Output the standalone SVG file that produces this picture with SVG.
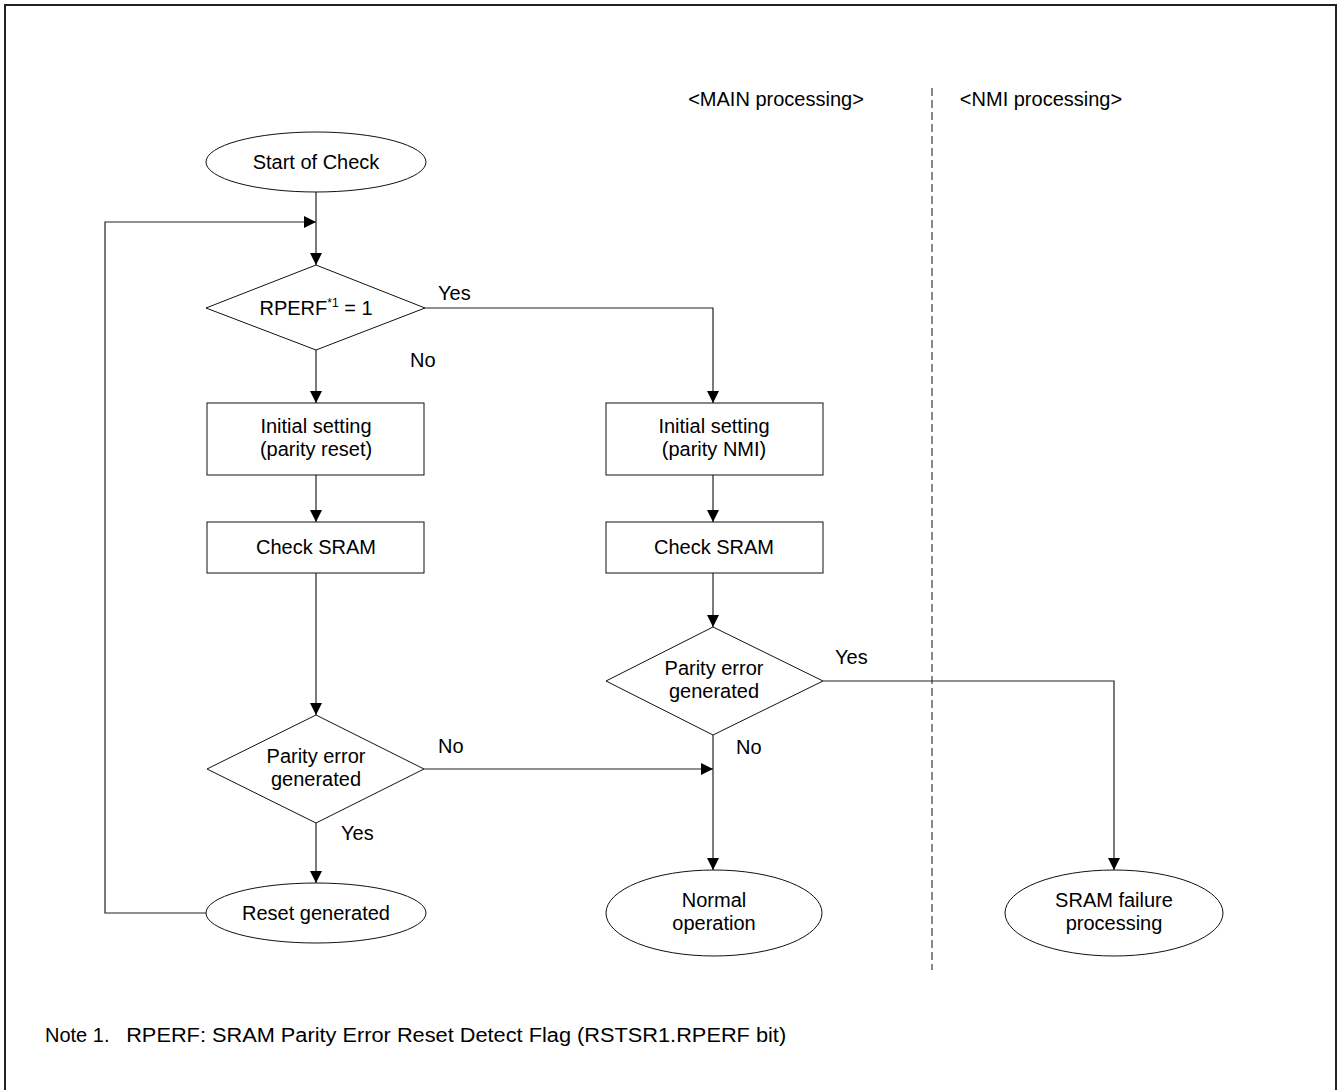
<svg xmlns="http://www.w3.org/2000/svg" width="1338" height="1090" viewBox="0 0 1338 1090">
<style>
text{font-family:"Liberation Sans",Arial,sans-serif;font-size:20px;fill:#000}
.c{text-anchor:middle}
.shape{fill:#fff;stroke:#111;stroke-width:1}
.conn{fill:none;stroke:#222;stroke-width:1.2}
</style>
<defs>
<marker id="ah" markerWidth="12" markerHeight="12" refX="12" refY="6" orient="auto" markerUnits="userSpaceOnUse">
<path d="M0,0 L12,6 L0,12 Z" fill="#000"/>
</marker>
</defs>
<rect width="1338" height="1090" fill="#fff"/>
<path d="M5,1090 V5 H1336 V1090" fill="none" stroke="#222" stroke-width="2"/>
<line x1="932" y1="88" x2="932" y2="970" stroke="#111" stroke-width="1" stroke-dasharray="8,4"/>
<text x="776" y="106" class="c">&lt;MAIN processing&gt;</text>
<text x="1041" y="106" class="c">&lt;NMI processing&gt;</text>

<g id="connectors">
<line class="conn" x1="316" y1="192" x2="316" y2="265" marker-end="url(#ah)"/>
<polyline class="conn" points="206,913 105,913 105,222 316,222" marker-end="url(#ah)"/>
<polyline class="conn" points="425,308 713,308 713,403" marker-end="url(#ah)"/>
<line class="conn" x1="316" y1="350" x2="316" y2="403" marker-end="url(#ah)"/>
<line class="conn" x1="316" y1="475" x2="316" y2="522" marker-end="url(#ah)"/>
<line class="conn" x1="316" y1="573" x2="316" y2="715" marker-end="url(#ah)"/>
<line class="conn" x1="316" y1="823" x2="316" y2="883" marker-end="url(#ah)"/>
<line class="conn" x1="713" y1="475" x2="713" y2="522" marker-end="url(#ah)"/>
<line class="conn" x1="713" y1="573" x2="713" y2="627" marker-end="url(#ah)"/>
<line class="conn" x1="713" y1="735" x2="713" y2="870" marker-end="url(#ah)"/>
<line class="conn" x1="424" y1="769" x2="713" y2="769" marker-end="url(#ah)"/>
<polyline class="conn" points="823,681 1114,681 1114,870" marker-end="url(#ah)"/>
<text x="438" y="300">Yes</text>
<text x="410" y="367">No</text>
<text x="438" y="753">No</text>
<text x="341" y="840">Yes</text>
<text x="835" y="664">Yes</text>
<text x="736" y="754">No</text>
</g>

<g id="start">
<ellipse class="shape" cx="316" cy="162" rx="110" ry="30"/>
<text x="316" y="169" class="c">Start of Check</text>
</g>
<g id="dec-rperf">
<polygon class="shape" points="316,265 425,308 316,350 206,308"/>
<text x="316" y="315" class="c">RPERF<tspan font-size="12" dy="-8">*1</tspan><tspan dy="8"> = 1</tspan></text>
</g>
<g id="init-reset">
<rect class="shape" x="207" y="403" width="217" height="72"/>
<text x="316" y="433" class="c">Initial setting</text>
<text x="316" y="456" class="c">(parity reset)</text>
</g>
<g id="check-left">
<rect class="shape" x="207" y="522" width="217" height="51"/>
<text x="316" y="554" class="c">Check SRAM</text>
</g>
<g id="dec-left">
<polygon class="shape" points="316,715 424,769 316,823 207,769"/>
<text x="316" y="763" class="c">Parity error</text>
<text x="316" y="786" class="c">generated</text>
</g>
<g id="reset-gen">
<ellipse class="shape" cx="316" cy="913" rx="110" ry="30"/>
<text x="316" y="920" class="c">Reset generated</text>
</g>
<g id="init-nmi">
<rect class="shape" x="606" y="403" width="217" height="72"/>
<text x="714" y="433" class="c">Initial setting</text>
<text x="714" y="456" class="c">(parity NMI)</text>
</g>
<g id="check-right">
<rect class="shape" x="606" y="522" width="217" height="51"/>
<text x="714" y="554" class="c">Check SRAM</text>
</g>
<g id="dec-right">
<polygon class="shape" points="713,627 823,681 713,735 606,681"/>
<text x="714" y="675" class="c">Parity error</text>
<text x="714" y="698" class="c">generated</text>
</g>
<g id="normal">
<ellipse class="shape" cx="714" cy="913" rx="108" ry="43"/>
<text x="714" y="907" class="c">Normal</text>
<text x="714" y="930" class="c">operation</text>
</g>
<g id="sram-fail">
<ellipse class="shape" cx="1114" cy="913" rx="109" ry="43"/>
<text x="1114" y="907" class="c">SRAM failure</text>
<text x="1114" y="930" class="c">processing</text>
</g>
<text x="45" y="1042" xml:space="preserve">Note 1.   <tspan textLength="660" lengthAdjust="spacingAndGlyphs">RPERF: SRAM Parity Error Reset Detect Flag (RSTSR1.RPERF bit)</tspan></text>
</svg>
